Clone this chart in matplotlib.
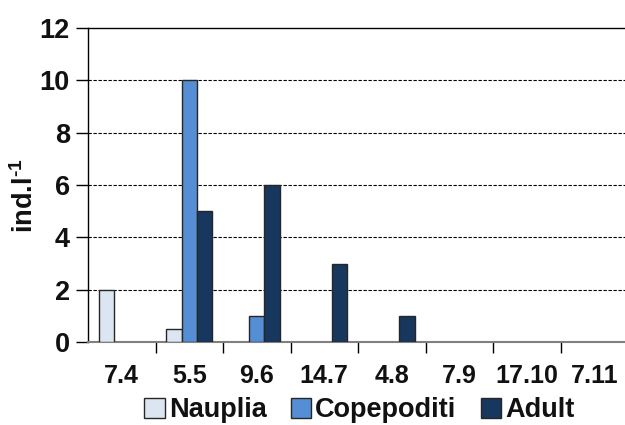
import matplotlib
matplotlib.use("Agg")
import matplotlib.pyplot as plt
import numpy as np
from matplotlib.patches import Patch

dates = ["7.4", "5.5", "9.6", "14.7", "4.8", "7.9", "17.10", "7.11"]
nauplia = [2, 0.5, 0, 0, 0, 0, 0, 0]
copepoditi = [0, 10, 1, 0, 0, 0, 0, 0]
adult = [0, 5, 6, 3, 1, 0, 0, 0]
series_names = ["Nauplia", "Copepoditi", "Adult"]
colors = ["#dce6f2", "#558ed5", "#17375e"]

plt.rcParams["font.family"] = ["Liberation Sans", "DejaVu Sans"]
plt.rcParams["font.weight"] = "bold"
plt.rcParams["mathtext.fontset"] = "custom"
plt.rcParams["mathtext.rm"] = "Liberation Sans:bold"
plt.rcParams["mathtext.bf"] = "Liberation Sans:bold"
plt.rcParams["mathtext.it"] = "Liberation Sans:bold"
plt.rcParams["text.color"] = "#111111"

fig = plt.figure(figsize=(6.25, 4.25), dpi=100)
ax = fig.add_axes([88 / 625, 1 - 342 / 425, 540 / 625, (342 - 28) / 425])

x = np.arange(len(dates))
w = 0.227
for i, (vals, c) in enumerate(zip([nauplia, copepoditi, adult], colors)):
    vals = np.asarray(vals, dtype=float)
    nz = vals > 0
    ax.bar(x[nz] + (i - 1) * w, vals[nz], width=w, color=c, edgecolor="#262626",
           linewidth=1.0, zorder=3)

ax.set_xlim(-0.5, len(dates) - 0.5)
ax.set_ylim(0, 12)
ax.set_yticks(range(0, 13, 2))
for yv in range(2, 12, 2):
    ax.axhline(yv, color="black", linestyle=(0, (3, 1.5)), linewidth=0.8, zorder=1)
ax.axhline(12, color="black", linewidth=1.0, zorder=1, clip_on=False)

ax.set_xticks(x)
ax.set_xticklabels(dates, fontsize=18, fontweight="bold", color="#111111")
ax.set_xticks(np.arange(0.5, len(dates) - 0.5), minor=True)
ax.tick_params(axis="x", which="major", length=0, pad=16)
ax.tick_params(axis="x", which="minor", length=8, width=1, color="black", direction="out")
ax.tick_params(axis="y", length=9, width=1, color="black", labelsize=19.5, pad=4,
               labelcolor="#111111")
for lab in ax.get_yticklabels():
    lab.set_fontweight("bold")

for s in ["top", "right"]:
    ax.spines[s].set_visible(False)
ax.spines["left"].set_color("black")
ax.spines["left"].set_linewidth(1.0)
ax.spines["bottom"].set_color("#808080")
ax.spines["bottom"].set_linewidth(1.5)

fig.text(25 / 625, 1 - 196 / 425, r"ind.l$^{\text{-}1}$", rotation=90,
         ha="center", va="center", fontsize=19.5, fontweight="bold")

handles = [Patch(facecolor=c, edgecolor="#262626", linewidth=1.0) for c in colors]
fig.legend(handles, series_names, loc="center", bbox_to_anchor=(0.575, 0.035),
           ncol=3, frameon=False, handlelength=0.75, handleheight=0.75,
           handletextpad=0.15, columnspacing=0.9, prop={"weight": "bold", "size": 19.5})

fig.savefig("out.png", dpi=100)
